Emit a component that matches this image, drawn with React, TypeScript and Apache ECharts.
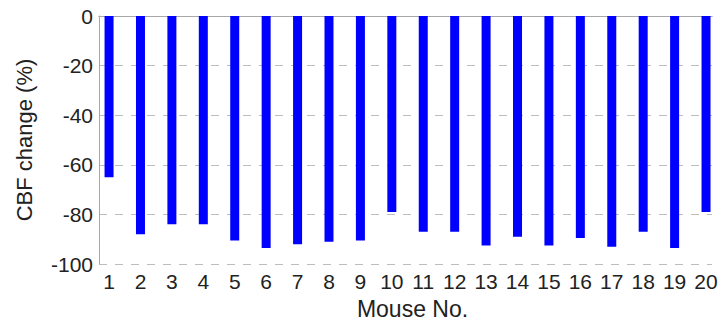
import React, { useEffect, useRef } from "react";
import * as echarts from "echarts";

const mouseNumbers = [1, 2, 3, 4, 5, 6, 7, 8, 9, 10, 11, 12, 13, 14, 15, 16, 17, 18, 19, 20];
const cbfChange = [-65, -88, -84, -84, -90.5, -93.5, -92, -91, -90.5, -79, -87, -87, -92.5, -89, -92.5, -89.5, -93, -87, -93.5, -79];
const xTitle = "Mouse No.";
const yTitle = "CBF change (%)";

const FONT = "'Liberation Sans', Arial, Helvetica, sans-serif";

export default function App() {
  const ref = useRef<HTMLDivElement>(null);
  useEffect(() => {
    if (!ref.current) return;
    const chart = echarts.init(ref.current, undefined, { renderer: "svg" });
    const axisColor = "#a8a8a8";
    const textColor = "#222222";
    chart.setOption({
      animation: false,
      backgroundColor: "#ffffff",
      grid: { left: 99, right: 12, top: 16, bottom: 60, containLabel: false },
      xAxis: [
        {
          type: "value",
          position: "bottom",
          min: 0.68,
          max: 20.19,
          minInterval: 1,
          maxInterval: 1,
          name: xTitle,
          nameLocation: "middle",
          nameGap: 33,
          nameTextStyle: { fontFamily: FONT, fontSize: 23, color: textColor, padding: [0, 0, 0, 14] },
          axisLine: { show: true, lineStyle: { color: axisColor, width: 1 } },
          axisTick: { show: false },
          splitLine: { show: false },
          axisLabel: {
            fontFamily: FONT,
            fontSize: 21,
            color: textColor,
            margin: 7,
            showMinLabel: false,
            showMaxLabel: false,
            formatter: (v: number) => (Number.isInteger(v) ? String(v) : ""),
          },
        },
        {
          type: "value",
          position: "top",
          min: 0.68,
          max: 20.19,
          axisLine: { show: true, lineStyle: { color: axisColor, width: 1 } },
          axisTick: { show: false },
          axisLabel: { show: false },
          splitLine: { show: false },
        },
      ],
      yAxis: {
        type: "value",
        min: -100,
        max: 0,
        interval: 20,
        name: yTitle,
        nameLocation: "middle",
        nameGap: 64,
        nameRotate: 90,
        nameTextStyle: { fontFamily: FONT, fontSize: 22, color: textColor },
        axisLine: { show: true, lineStyle: { color: axisColor, width: 1 } },
        axisTick: { show: false },
        axisLabel: { fontFamily: FONT, fontSize: 21, color: textColor, margin: 6 },
        splitLine: { show: true, lineStyle: { color: "#bdbdbd", type: [8, 8], width: 1 } },
      },
      series: [
        {
          type: "bar",
          xAxisIndex: 0,
          barWidth: 9,
          itemStyle: { color: "#0000ff" },
          data: mouseNumbers.map((m, i) => [m, cbfChange[i]]),
        },
      ],
    });
    return () => chart.dispose();
  }, []);
  return (
    <div
      ref={ref}
      style={{ position: "fixed", left: 0, top: 0, width: 724, height: 325, background: "#fff" }}
    />
  );
}
